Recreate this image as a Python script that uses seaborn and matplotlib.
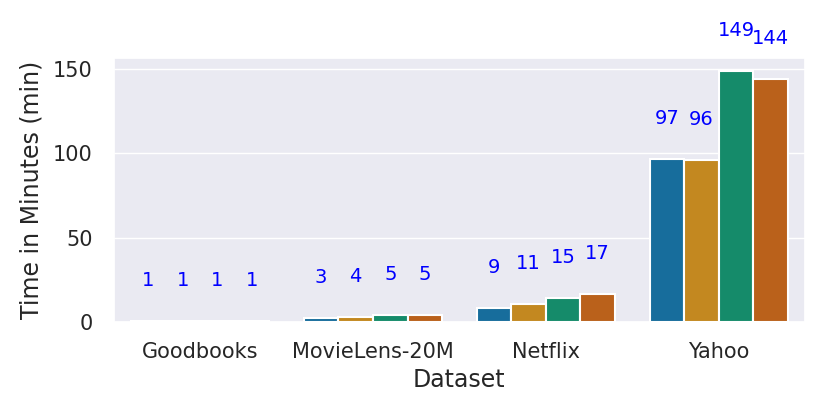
import pandas as pd
import seaborn as sns
import matplotlib.pyplot as plt

# values
datasets = ["Goodbooks", "MovieLens-20M", "Netflix", "Yahoo"]
methods = ["M1", "M2", "M3", "M4"]
goodbooks_min = [0.3, 0.3, 0.3, 0.3]
movielens_min = [2.0, 3.0, 3.9, 4.0]
netflix_min = [8.2, 10.3, 14.2, 16.5]
yahoo_min = [96.8, 96.0, 149.2, 144.2]
# labels printed above the bars
goodbooks_lbl = ["1", "1", "1", "1"]
movielens_lbl = ["3", "4", "5", "5"]
netflix_lbl = ["9", "11", "15", "17"]
yahoo_lbl = ["97", "96", "149", "144"]


def main():
    sns.set_theme(style="darkgrid")

    rows = []
    for ds, vals, lbls in zip(datasets,
                              [goodbooks_min, movielens_min, netflix_min, yahoo_min],
                              [goodbooks_lbl, movielens_lbl, netflix_lbl, yahoo_lbl]):
        for m, v, l in zip(methods, vals, lbls):
            rows.append({"Dataset": ds, "Method": m, "Time": v, "Label": l})
    df = pd.DataFrame(rows)

    fig, ax = plt.subplots(figsize=(8.3, 4.15), dpi=100)
    sns.barplot(data=df, x="Dataset", y="Time", hue="Method",
                palette="colorblind", saturation=0.75,
                edgecolor="white", linewidth=1.5, ax=ax)
    ax.get_legend().remove()

    # annotate bars in hue order
    for container, m in zip(ax.containers, methods):
        sub = df[df["Method"] == m]
        for p, lbl in zip(container.patches, sub["Label"]):
            ax.text(p.get_x() + p.get_width() / 2, p.get_height() + 24, lbl,
                    color="blue", ha="center", va="center", fontsize=14,
                    clip_on=False)

    ax.set_ylabel("Time in Minutes (min)", fontsize=17, labelpad=7)
    ax.set_xlabel("Dataset", fontsize=17, labelpad=4)
    ax.tick_params(labelsize=15, pad=9)
    ax.set_yticks([0, 50, 100, 150])

    fig.subplots_adjust(left=0.137, right=0.97, top=0.86, bottom=0.225)
    fig.savefig("out.png", dpi=100)
    plt.close(fig)


if __name__ == "__main__":
    main()
